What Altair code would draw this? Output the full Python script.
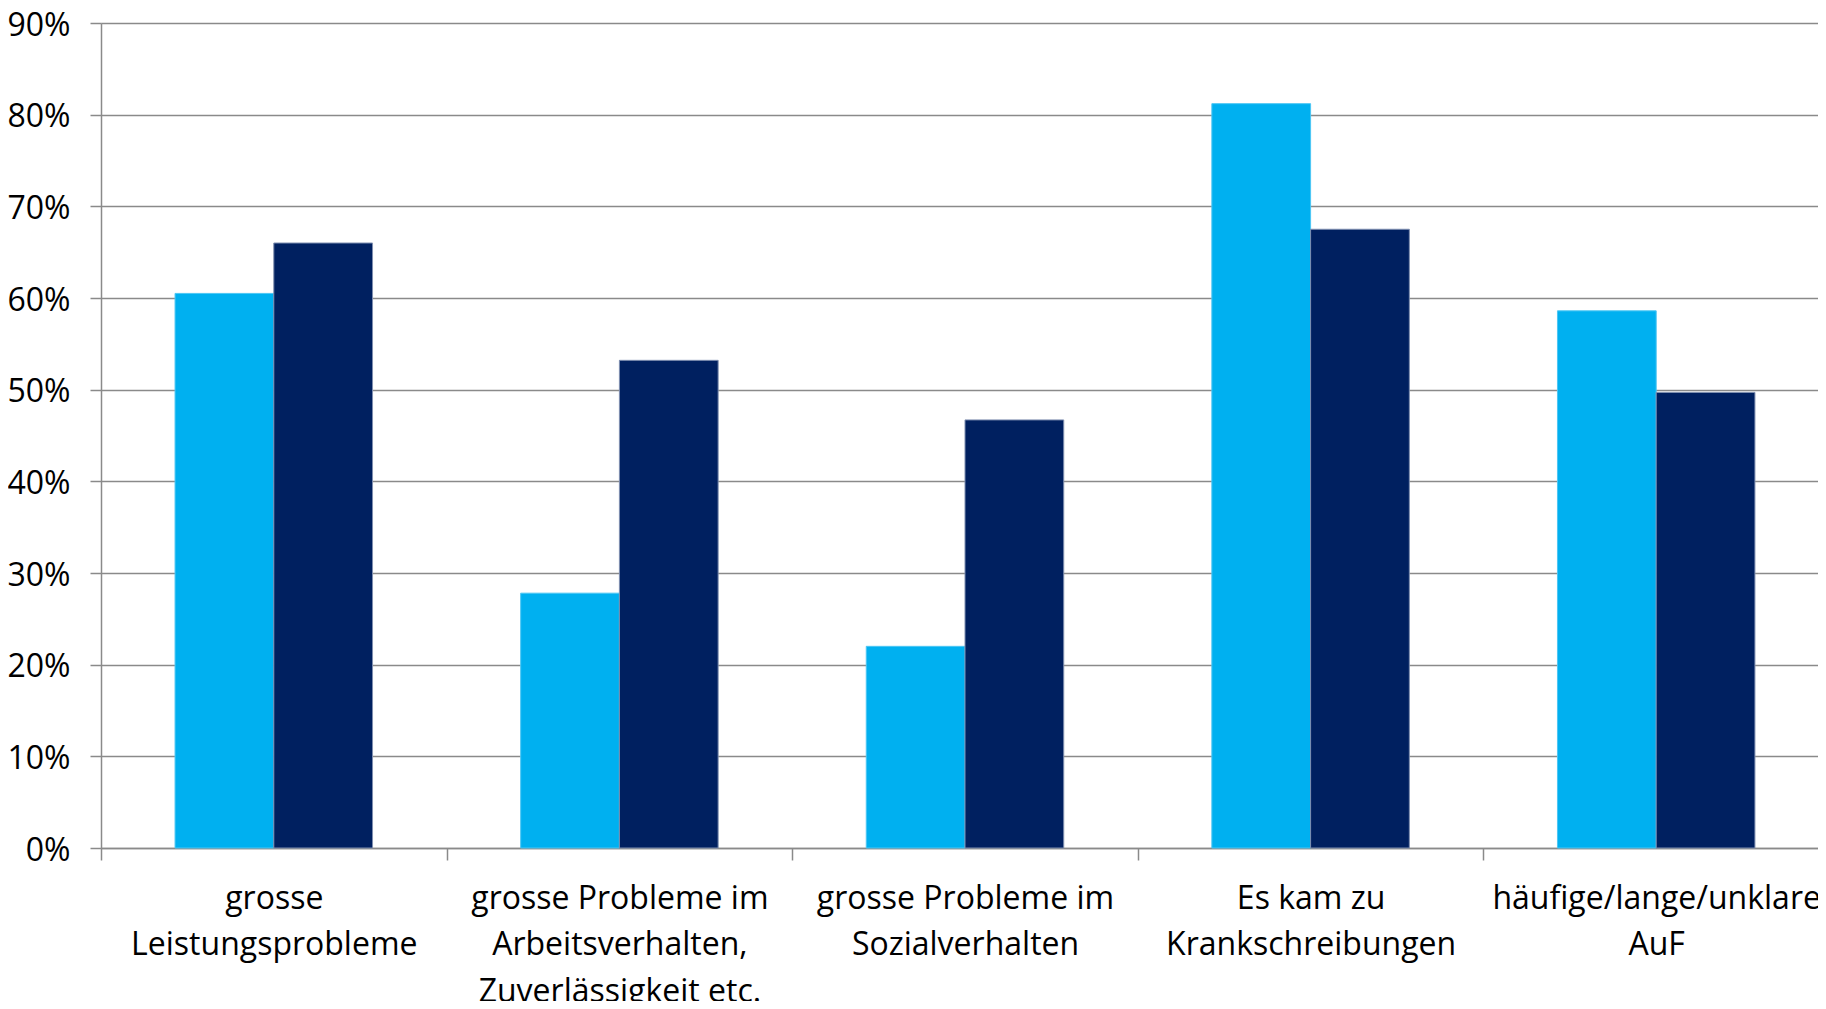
import altair as alt
import pandas as pd

categories = [
    "grosse\nLeistungsprobleme",
    "grosse Probleme im\nArbeitsverhalten,\nZuverlässigkeit etc.",
    "grosse Probleme im\nSozialverhalten",
    "Es kam zu\nKrankschreibungen",
    "häufige/lange/unklare\nAuF",
]
series_names = ["Serie 1", "Serie 2"]
values_1 = [0.605, 0.278, 0.220, 0.812, 0.586]
values_2 = [0.660, 0.532, 0.467, 0.675, 0.497]
y_ticks = [0.0, 0.1, 0.2, 0.3, 0.4, 0.5, 0.6, 0.7, 0.8, 0.9]

rows = []
for c, a, b in zip(categories, values_1, values_2):
    rows.append({"cat": c, "series": series_names[0], "value": a})
    rows.append({"cat": c, "series": series_names[1], "value": b})
df = pd.DataFrame(rows)

FONT = "Open Sans"
GRID = "#8a8a8a"

chart = alt.Chart(df).mark_bar(strokeWidth=1).encode(
    x=alt.X(
        "cat:N",
        sort=categories,
        title=None,
        scale=alt.Scale(paddingInner=0, paddingOuter=0),
        axis=alt.Axis(
            labelAngle=0,
            labelExpr="split(datum.label, '\\n')",
            labelFont=FONT,
            labelFontSize=32,
            labelColor="#000000",
            labelLineHeight=46.5,
            labelPadding=23,
            labelBaseline="top",
            tickBand="extent",
            tickSize=12,
            tickColor=GRID,
            tickWidth=1.5,
            domainColor=GRID,
            domainWidth=1.5,
            grid=False,
            labelLimit=0,
        ),
    ),
    xOffset=alt.XOffset(
        "series:N",
        sort=series_names,
        scale=alt.Scale(paddingInner=0, paddingOuter=0.75),
    ),
    y=alt.Y(
        "value:Q",
        title=None,
        scale=alt.Scale(domain=[0, 0.9], nice=False),
        axis=alt.Axis(
            values=y_ticks,
            format=".0%",
            labelFont=FONT,
            labelFontSize=32,
            labelColor="#000000",
            labelPadding=20,
            labelOffset=2,
            tickSize=11,
            tickColor=GRID,
            tickWidth=1.5,
            domainColor=GRID,
            domainWidth=1.5,
            gridColor=GRID,
            gridWidth=1.5,
        ),
    ),
    color=alt.Color(
        "series:N",
        sort=series_names,
        scale=alt.Scale(domain=series_names, range=["#00B0F0", "#002060"]),
        legend=None,
    ),
    stroke=alt.Stroke(
        "series:N",
        sort=series_names,
        scale=alt.Scale(domain=series_names, range=["#4cc6f4", "#7f8fb0"]),
        legend=None,
    ),
).properties(
    width=1728,
    height=825,
    autosize=alt.AutoSizeParams(type="none"),
    padding={"left": 93, "top": 15, "right": -11, "bottom": 153},
).configure_view(stroke=None).configure(background="white")

chart.save("out.html", embed_options={"renderer": "svg", "actions": False})
